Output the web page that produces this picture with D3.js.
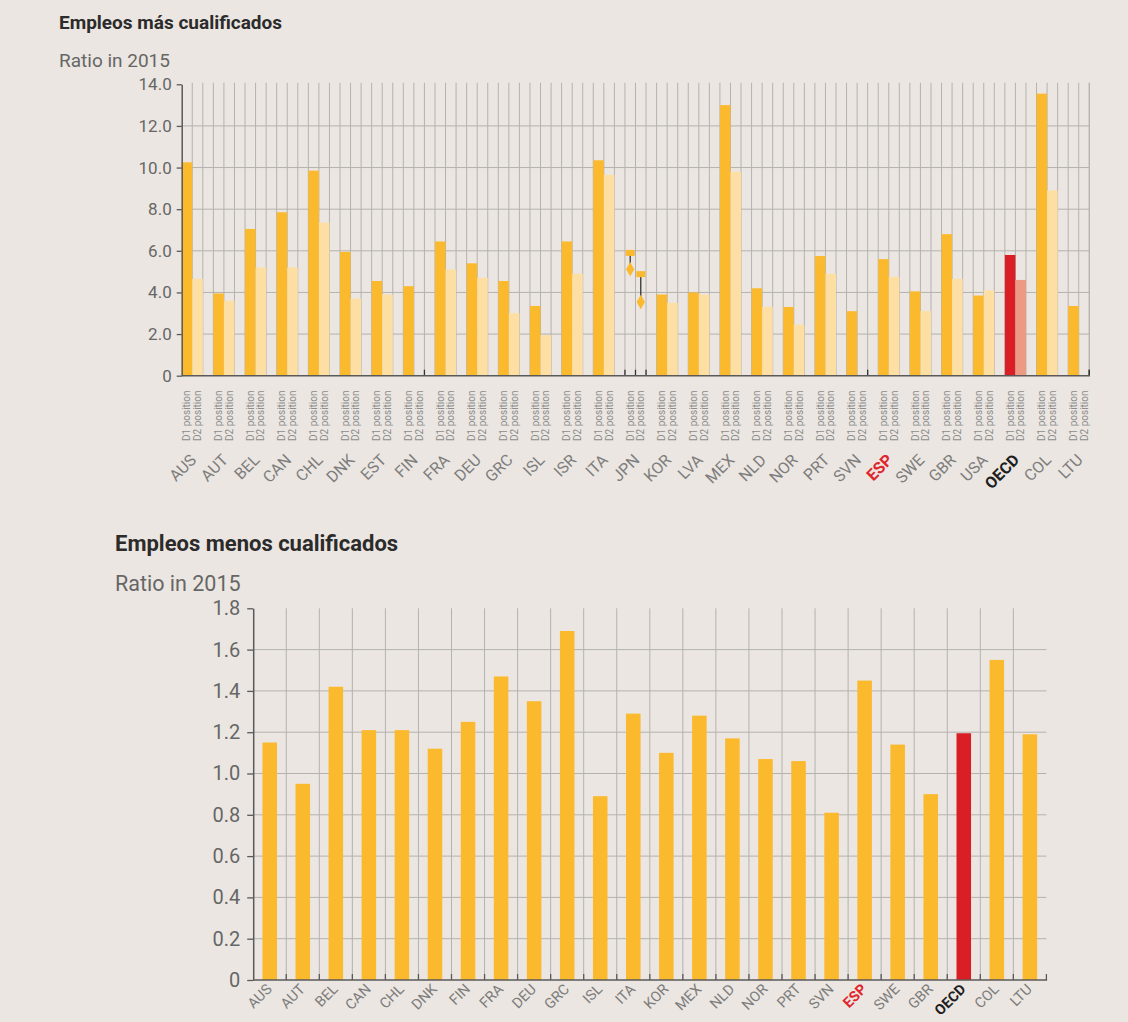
<!DOCTYPE html>
<html lang="es">
<head>
<meta charset="UTF-8">
<title>Empleos más y menos cualificados</title>
<script src="https://d3js.org/d3.v7.min.js"></script>
<style>
  body { margin: 0; background: #ebe6e1; }
  svg { display: block; font-family: Roboto, "Noto Sans", sans-serif; }
</style>
</head>
<body>
<svg width="1128" height="1022"></svg>
<script>
// ---- top chart: Empleos más cualificados ----
var topCountries = ["AUS","AUT","BEL","CAN","CHL","DNK","EST","FIN","FRA","DEU","GRC","ISL","ISR","ITA","JPN",
                    "KOR","LVA","MEX","NLD","NOR","PRT","SVN","ESP","SWE","GBR","USA","OECD","COL","LTU"];
var topD1 = [10.25, 3.95, 7.05, 7.85, 9.85, 5.95, 4.55, 4.3, 6.45, 5.4, 4.55, 3.35, 6.45, 10.35, null,
             3.9, 4.0, 13.0, 4.2, 3.3, 5.75, 3.1, 5.6, 4.05, 6.8, 3.85, 5.8, 13.55, 3.35];
var topD2 = [4.65, 3.6, 5.2, 5.2, 7.35, 3.7, 3.9, null, 5.1, 4.7, 3.0, 1.95, 4.9, 9.65, null,
             3.5, 3.9, 9.8, 3.3, 2.45, 4.9, null, 4.75, 3.1, 4.65, 4.1, 4.6, 8.9, null];
// JPN is shown as a range (high / low) for D1 and D2
var jpnHigh = [5.9, 4.88];
var jpnLow = [5.12, 3.54];
var topTicks = [0, 2, 4, 6, 8, 10, 12, 14];
var subKeys = ["D1", "D2", "gap"];
var subLabels = ["D1 position", "D2 position"];

// ---- bottom chart: Empleos menos cualificados ----
var botCountries = ["AUS","AUT","BEL","CAN","CHL","DNK","FIN","FRA","DEU","GRC","ISL","ITA","KOR","MEX",
                    "NLD","NOR","PRT","SVN","ESP","SWE","GBR","OECD","COL","LTU"];
var botValues = [1.15, 0.95, 1.42, 1.21, 1.21, 1.12, 1.25, 1.47, 1.35, 1.69, 0.89, 1.29, 1.10, 1.28,
                 1.17, 1.07, 1.06, 0.81, 1.45, 1.14, 0.90, 1.195, 1.55, 1.19];
var botTicks = [0, 0.2, 0.4, 0.6, 0.8, 1.0, 1.2, 1.4, 1.6, 1.8];

var gold = "#fbb92d", pale = "#fddfa3", red = "#d91e25", salmon = "#ec9a83";
var gridColor = "#b4b2ae", axisColor = "#5a5a5a";

var svg = d3.select("svg");
svg.append("rect").attr("width", 1128).attr("height", 1022).attr("fill", "#ebe6e1");

function labelColor(c) { return c === "ESP" ? "#e0262d" : c === "OECD" ? "#1e1e1e" : "#7d7d7d"; }
function labelWeight(c) { return (c === "ESP" || c === "OECD") ? "bold" : "normal"; }

// ================= TOP =================
var xTop = d3.scaleBand().domain(topCountries).range([181.7, 181.7 + 29 * 31.66]);
var sub = d3.scaleBand().domain(subKeys).range([0, xTop.bandwidth()]);
var sw = sub.bandwidth();
var xTopEnd = xTop(topCountries[topCountries.length - 1]) + 2 * sw;
var yTop = d3.scaleLinear().domain([0, 14]).range([375.7, 84.3]);

var gTop = svg.append("g");

// titles
gTop.append("text").attr("x", 59).attr("y", 29).attr("font-size", 19).attr("font-weight", "bold")
    .attr("fill", "#2b2b2b").text("Empleos más cualificados");
gTop.append("text").attr("x", 59).attr("y", 67).attr("font-size", 19).attr("fill", "#666")
    .text("Ratio in 2015");

// vertical grid at every slot boundary
var slotEdges = [];
topCountries.forEach(function (c) {
    for (var k = 0; k < 3; k++) slotEdges.push(xTop(c) + k * sw);
});
slotEdges.push(xTopEnd);
gTop.append("g").selectAll("line").data(slotEdges.slice(1)).join("line")
    .attr("x1", d => d).attr("x2", d => d)
    .attr("y1", yTop(14) - 1.5).attr("y2", yTop(0))
    .attr("stroke", gridColor).attr("stroke-width", 1);

// horizontal grid
gTop.append("g").selectAll("line").data(topTicks.filter(t => t > 0 && t < 14)).join("line")
    .attr("x1", xTop.range()[0]).attr("x2", xTopEnd)
    .attr("y1", d => yTop(d)).attr("y2", d => yTop(d))
    .attr("stroke", gridColor).attr("stroke-width", 1);

// small ticks on the x axis: only visible where the slots beside them have no bar
function slotHasBar(i) {
    var ci = Math.floor(i / 3), k = i % 3;
    if (ci < 0 || ci >= topCountries.length || k === 2) return false;
    return (k === 0 ? topD1[ci] : topD2[ci]) != null;
}
var tickEdges = [];
for (var e = 1; e < topCountries.length * 3; e++) {
    if (e % 3 === 0 && topD1[e / 3] != null) continue;
    if (!slotHasBar(e - 1) && !slotHasBar(e)) tickEdges.push(xTop.range()[0] + e * sw);
}
tickEdges.push(xTopEnd);
gTop.append("g").selectAll("line").data(tickEdges).join("line")
    .attr("x1", d => d).attr("x2", d => d)
    .attr("y1", yTop(0)).attr("y2", yTop(0) - 6)
    .attr("stroke", "#333").attr("stroke-width", 1.3);

// bars
var topBars = [];
topCountries.forEach(function (c, i) {
    if (topD1[i] != null) topBars.push({c: c, k: "D1", v: topD1[i]});
    if (topD2[i] != null) topBars.push({c: c, k: "D2", v: topD2[i]});
});
gTop.append("g").selectAll("rect").data(topBars).join("rect")
    .attr("x", d => xTop(d.c) + sub(d.k))
    .attr("width", sw)
    .attr("y", d => yTop(d.v))
    .attr("height", d => yTop(0) - yTop(d.v))
    .attr("fill", d => d.c === "OECD" ? (d.k === "D1" ? red : salmon) : (d.k === "D1" ? gold : pale));

// JPN range markers
var jpn = ["D1", "D2"].map(function (k, j) {
    return {x: xTop("JPN") + sub(k) + sw / 2, hi: jpnHigh[j], lo: jpnLow[j]};
});
var gJ = gTop.append("g");
gJ.selectAll("line").data(jpn).join("line")
    .attr("x1", d => d.x).attr("x2", d => d.x)
    .attr("y1", d => yTop(d.hi)).attr("y2", d => yTop(d.lo))
    .attr("stroke", "#333").attr("stroke-width", 1.3);
gJ.selectAll("rect").data(jpn).join("rect")
    .attr("x", d => d.x - 4.5).attr("y", d => yTop(d.hi) - 3)
    .attr("width", 9).attr("height", 6).attr("fill", gold);
gJ.selectAll("path").data(jpn).join("path")
    .attr("transform", d => "translate(" + d.x + "," + yTop(d.lo) + ")")
    .attr("d", d3.symbol().type(d3.symbolDiamond).size(60))
    .attr("fill", gold);

// axes
var yAxTop = d3.axisLeft(yTop).tickValues(topTicks).tickSize(5).tickSizeOuter(0)
    .tickFormat(d => d === 0 ? "0" : d3.format(".1f")(d));
var ga = gTop.append("g").attr("transform", "translate(" + xTop.range()[0] + ",0)").call(yAxTop);
ga.select(".domain").attr("stroke", axisColor).attr("stroke-width", 1.5);
ga.selectAll(".tick line").attr("stroke", axisColor).attr("stroke-width", 1.3);
ga.selectAll(".tick text").attr("font-size", 17).attr("fill", "#666").attr("x", -10)
    .attr("font-family", "Roboto, sans-serif");
gTop.append("line").attr("x1", xTop.range()[0]).attr("x2", xTopEnd + 0.7)
    .attr("y1", yTop(0)).attr("y2", yTop(0))
    .attr("stroke", axisColor).attr("stroke-width", 1.5);

// D1 / D2 sub labels
var subLab = [];
topCountries.forEach(function (c) {
    subLab.push({c: c, k: "D1", t: subLabels[0]});
    subLab.push({c: c, k: "D2", t: subLabels[1]});
});
gTop.append("g").selectAll("text").data(subLab).join("text")
    .attr("transform", d => "translate(" + (xTop(d.c) + sub(d.k) + sw / 2) + ",441) rotate(-90)")
    .attr("dy", "0.35em").attr("font-size", 10).attr("fill", "#8c8c8c")
    .text(d => d.t);

// country labels
gTop.append("g").selectAll("text").data(topCountries).join("text")
    .attr("transform", d => "translate(" + (xTop(d) + sw + 5) + ",461) rotate(-45)")
    .attr("text-anchor", "end").attr("font-size", 16)
    .attr("fill", labelColor).attr("font-weight", labelWeight)
    .text(d => d);

// ================= BOTTOM =================
var xBot = d3.scaleBand().domain(botCountries).range([253.2, 253.2 + 24 * 33.05]);
var yBot = d3.scaleLinear().domain([0, 1.8]).range([980, 608.3]);
var bw = xBot.bandwidth() * 0.44;
var xBotEnd = xBot.range()[1];
var gBot = svg.append("g");

gBot.append("text").attr("x", 115).attr("y", 551).attr("font-size", 22).attr("font-weight", "bold")
    .attr("fill", "#2b2b2b").text("Empleos menos cualificados");
gBot.append("text").attr("x", 115).attr("y", 591).attr("font-size", 21.5).attr("fill", "#666")
    .text("Ratio in 2015");

var botEdges = botCountries.map(c => xBot(c) + xBot.bandwidth()).slice(0, -1);
gBot.append("g").selectAll("line").data(botEdges).join("line")
    .attr("x1", d => d).attr("x2", d => d)
    .attr("y1", yBot(1.8)).attr("y2", yBot(0))
    .attr("stroke", gridColor).attr("stroke-width", 1);
gBot.append("g").selectAll("line").data(botTicks.filter(t => t > 0 && t < 1.8)).join("line")
    .attr("x1", xBot.range()[0]).attr("x2", xBotEnd)
    .attr("y1", d => yBot(d)).attr("y2", d => yBot(d))
    .attr("stroke", gridColor).attr("stroke-width", 1);

gBot.append("g").selectAll("rect").data(botCountries).join("rect")
    .attr("x", d => xBot(d) + (xBot.bandwidth() - bw) / 2)
    .attr("width", bw)
    .attr("y", (d, i) => yBot(botValues[i]))
    .attr("height", (d, i) => yBot(0) - yBot(botValues[i]))
    .attr("fill", d => d === "OECD" ? red : gold);

var yAxBot = d3.axisLeft(yBot).tickValues(botTicks).tickSize(6).tickSizeOuter(0)
    .tickFormat(d => d === 0 ? "0" : d3.format(".1f")(d));
var gb = gBot.append("g").attr("transform", "translate(" + xBot.range()[0] + ",0)").call(yAxBot);
gb.select(".domain").attr("stroke", axisColor).attr("stroke-width", 1.5);
gb.selectAll(".tick line").attr("stroke", axisColor).attr("stroke-width", 1.3);
gb.selectAll(".tick text").attr("font-size", 20).attr("fill", "#666").attr("x", -13)
    .attr("font-family", "Roboto, sans-serif");

gBot.append("line").attr("x1", xBot.range()[0]).attr("x2", xBotEnd + 0.7)
    .attr("y1", yBot(0)).attr("y2", yBot(0))
    .attr("stroke", axisColor).attr("stroke-width", 1.5);
gBot.append("g").selectAll("line").data(botEdges.concat([xBotEnd])).join("line")
    .attr("x1", d => d).attr("x2", d => d)
    .attr("y1", yBot(0)).attr("y2", yBot(0) - 6)
    .attr("stroke", axisColor).attr("stroke-width", 1.3);

gBot.append("g").selectAll("text").data(botCountries).join("text")
    .attr("transform", d => "translate(" + (xBot(d) + xBot.bandwidth() / 2 + 3) + ",990) rotate(-45)")
    .attr("text-anchor", "end").attr("font-size", 14.5)
    .attr("fill", labelColor).attr("font-weight", labelWeight)
    .text(d => d);
</script>
</body>
</html>
